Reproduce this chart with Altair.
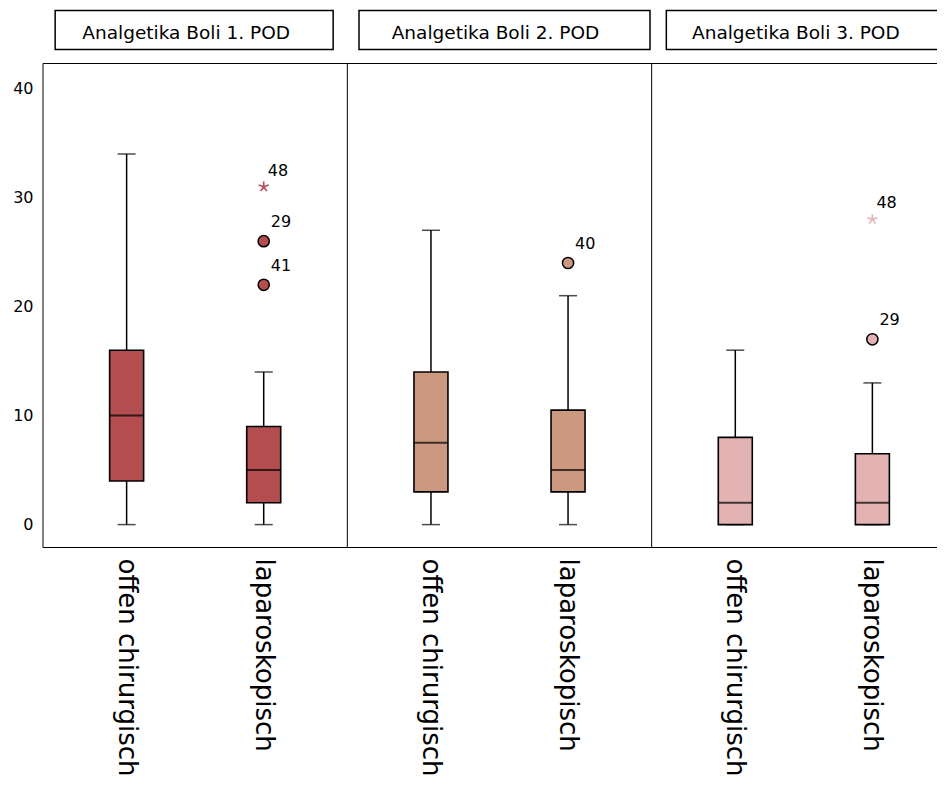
import altair as alt
import pandas as pd

# ---------------- data ----------------
panels = ["Analgetika Boli 1. POD", "Analgetika Boli 2. POD", "Analgetika Boli 3. POD"]
groups = ["offen chirurgisch", "laparoskopisch"]

box_panel = [0, 0, 1, 1, 2, 2]
box_group = ["offen chirurgisch", "laparoskopisch"] * 3
whisker_low = [0, 0, 0, 0, 0, 0]
q1 = [4, 2, 3, 3, 0, 0]
median = [10, 5, 7.5, 5, 2, 2]
q3 = [16, 9, 14, 10.5, 8, 6.5]
whisker_high = [34, 14, 27, 21, 16, 13]

out_panel = [0, 0, 0, 1, 2, 2]
out_group = ["laparoskopisch"] * 6
out_value = [31, 26, 22, 24, 28, 17]
out_id = ["48", "29", "41", "40", "48", "29"]
out_kind = ["extreme", "outlier", "outlier", "outlier", "extreme", "outlier"]

# ---------------- styling / layout ----------------
colors = ["#b34d4f", "#cc9980", "#e3b3b3"]
W = 894            # visible plot width; the page edge cuts the third panel
H = 484
PANEL_RANGE = 913  # three panels of ~304 px each
PAD = {"left": 35, "top": 55.5, "right": 0, "bottom": 230}
title_box_w = [278, 291, 277]
title_box_dx = [-1, 5, 1]
title_text_dx = [-9, -4, -8]
FONT = "DejaVu Sans"
ASTERISK = ("M0,0L0,-1M0,0L0.951,-0.309M0,0L0.588,0.809"
            "M0,0L-0.588,0.809M0,0L-0.951,-0.309")

box_df = pd.DataFrame({
    "panel": [panels[p] for p in box_panel],
    "group": box_group,
    "low": whisker_low, "q1": q1, "med": median, "q3": q3, "high": whisker_high,
})
out_df = pd.DataFrame({
    "panel": [panels[p] for p in out_panel],
    "group": out_group, "value": out_value, "id": out_id, "kind": out_kind,
})
panel_df = pd.DataFrame({"panel": panels})
label_df = pd.DataFrame({
    "panel": [panels[p] for p in box_panel],
    "group": box_group,
})

y_scale = alt.Scale(domain=[-2.1, 42.3], nice=False, zero=False)
x_scale = alt.Scale(domain=panels, range=[0, PANEL_RANGE], paddingInner=0, paddingOuter=0)
xo_scale = alt.Scale(domain=groups, paddingInner=0, paddingOuter=0.11)
col_scale = alt.Scale(domain=panels, range=colors)

y_axis = alt.Axis(values=[0, 10, 20, 30, 40], grid=False, ticks=False,
                  domain=False, labelPadding=10, labelFontSize=16,
                  labelFont=FONT, labelColor="black", title=None)

X = alt.X("panel:N", scale=x_scale, axis=None)
XO = alt.XOffset("group:N", scale=xo_scale, sort=groups)

base = alt.Chart(box_df).encode(x=X, xOffset=XO)
whisk = base.mark_rule(color="black", strokeWidth=1.5).encode(
    y=alt.Y("low:Q", scale=y_scale, axis=y_axis), y2="high:Q")
cap_lo = base.mark_tick(color="black", size=18, thickness=1.5,
                        orient="horizontal").encode(y="low:Q")
cap_hi = base.mark_tick(color="black", size=18, thickness=1.5,
                        orient="horizontal").encode(y="high:Q")
box = base.mark_bar(size=34, stroke="black", strokeWidth=1.6).encode(
    y="q1:Q", y2="q3:Q",
    fill=alt.Fill("panel:N", scale=col_scale, legend=None))
med = base.mark_tick(color="black", size=34, thickness=2,
                     orient="horizontal").encode(y="med:Q")

ob = alt.Chart(out_df).encode(x=X, xOffset=XO, y=alt.Y("value:Q", scale=y_scale))
circ = ob.transform_filter(alt.datum.kind == "outlier").mark_point(
    shape="circle", filled=True, stroke="black", strokeWidth=1.5,
    size=125, opacity=1).encode(
    fill=alt.Fill("panel:N", scale=col_scale, legend=None))
star = ob.transform_filter(alt.datum.kind == "extreme").mark_point(
    shape=ASTERISK, filled=False, strokeWidth=1.6, size=110, opacity=1).encode(
    stroke=alt.Stroke("panel:N", scale=col_scale, legend=None))
lab_c = ob.transform_filter(alt.datum.kind == "outlier").mark_text(
    align="left", baseline="middle", dx=7, dy=-19, fontSize=16,
    font=FONT, color="black").encode(text="id:N")
lab_s = ob.transform_filter(alt.datum.kind == "extreme").mark_text(
    align="left", baseline="middle", dx=4, dy=-16, fontSize=16,
    font=FONT, color="black").encode(text="id:N")

# category labels under each panel
xlab = alt.Chart(label_df).mark_text(
    angle=90, align="left", baseline="middle", fontSize=26, font=FONT,
    color="black").encode(x=X, xOffset=XO, y=alt.value(H + 11), text="group:N")

# frame: dividers, top and bottom edges
divs = alt.Chart(panel_df).mark_rule(color="black", strokeWidth=1).encode(
    x=alt.X("panel:N", scale=x_scale, axis=None, bandPosition=0),
    y=alt.value(0), y2=alt.value(H))
top_rule = alt.Chart(alt.Data(values=[{"k": 1}])).mark_rule(
    color="black", strokeWidth=1).encode(x=alt.value(0), x2=alt.value(W), y=alt.value(0))
bot_rule = alt.Chart(alt.Data(values=[{"k": 1}])).mark_rule(
    color="black", strokeWidth=1).encode(x=alt.value(0), x2=alt.value(W), y=alt.value(H))

# panel title boxes
title_layers = []
for i, p in enumerate(panels):
    pdat = alt.Chart(panel_df).transform_filter(alt.datum.panel == p)
    title_layers.append(pdat.mark_bar(
        size=title_box_w[i], xOffset=title_box_dx[i], fill="white",
        stroke="black", strokeWidth=1.5).encode(
        x=X, y=alt.value(-53), y2=alt.value(-14)))
    title_layers.append(pdat.mark_text(
        fontSize=18.5, font=FONT, color="black", align="center",
        baseline="middle", dx=title_text_dx[i]).encode(
        x=X, y=alt.value(-31), text="panel:N"))

chart = alt.layer(
    divs, top_rule, bot_rule, whisk, cap_lo, cap_hi, box, med,
    circ, star, lab_c, lab_s, xlab, *title_layers
).properties(
    width=W, height=H,
    padding=PAD,
    autosize=alt.AutoSizeParams(type="none"),
).configure_view(stroke="transparent")

chart.save("out.html", embed_options={"renderer": "svg", "actions": False})
